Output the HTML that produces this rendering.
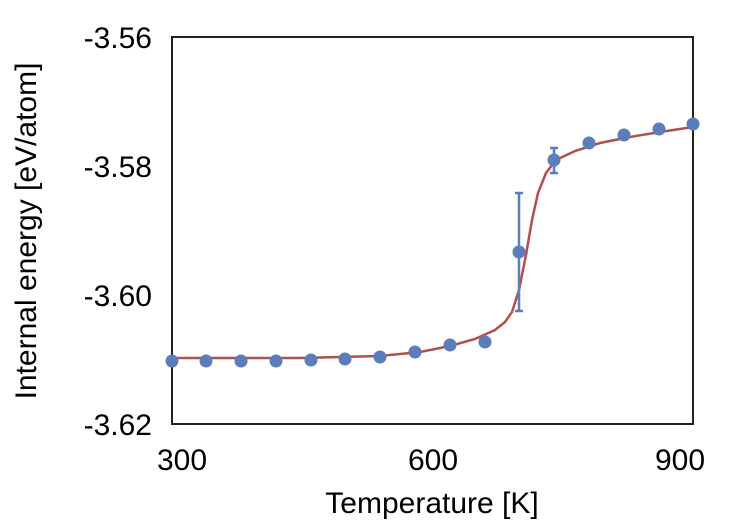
<!DOCTYPE html>
<html><head><style>body{margin:0;background:#fff}</style></head><body>
<svg width="750" height="525" xmlns="http://www.w3.org/2000/svg" font-family="Liberation Sans, sans-serif">
<rect width="750" height="525" fill="#fff"/>
<rect x="172" y="37" width="521" height="387" fill="none" stroke="#222" stroke-width="2"/>
<g font-size="30" fill="#000" text-anchor="end">
<text x="152" y="48">-3.56</text>
<text x="152" y="177">-3.58</text>
<text x="152" y="306">-3.60</text>
<text x="152" y="435">-3.62</text>
</g>
<g font-size="30" fill="#000" text-anchor="middle">
<text x="182" y="470">300</text>
<text x="433" y="470">600</text>
<text x="680" y="470">900</text>
<text x="432" y="513">Temperature [K]</text>
<text transform="translate(36,231) rotate(-90)">Internal energy [eV/atom]</text>
</g>
<path d="M172,358 L300,358 L380,356 L420,352 L450,346 L475,339 L495,330 L505,322 L512,312 L519,290 L526,255 L532,220 L538,193 L546,173 L556,160 L575,151 L600,143 L630,137 L660,132 L693,127" fill="none" stroke="#b0504c" stroke-width="2.5"/>
<g stroke="#5b7dbc" stroke-width="2.5">
<line x1="519" y1="193" x2="519" y2="311"/><line x1="515" y1="193" x2="523" y2="193"/><line x1="515" y1="311" x2="523" y2="311"/>
<line x1="554" y1="148" x2="554" y2="173"/><line x1="550" y1="148" x2="558" y2="148"/><line x1="550" y1="173" x2="558" y2="173"/>
</g>
<g fill="#5b7dbc">
<circle cx="172" cy="361" r="6.5"/><circle cx="206" cy="361" r="6.5"/><circle cx="241" cy="361" r="6.5"/><circle cx="276" cy="361" r="6.5"/><circle cx="311" cy="360" r="6.5"/><circle cx="345" cy="359" r="6.5"/><circle cx="380" cy="357" r="6.5"/><circle cx="415" cy="352" r="6.5"/><circle cx="450" cy="345" r="6.5"/><circle cx="485" cy="342" r="6.5"/><circle cx="519" cy="252" r="6.5"/><circle cx="554" cy="160" r="6.5"/><circle cx="589" cy="143" r="6.5"/><circle cx="624" cy="135" r="6.5"/><circle cx="659" cy="129" r="6.5"/><circle cx="693" cy="124" r="6.5"/>
</g>
</svg>
</body></html>
